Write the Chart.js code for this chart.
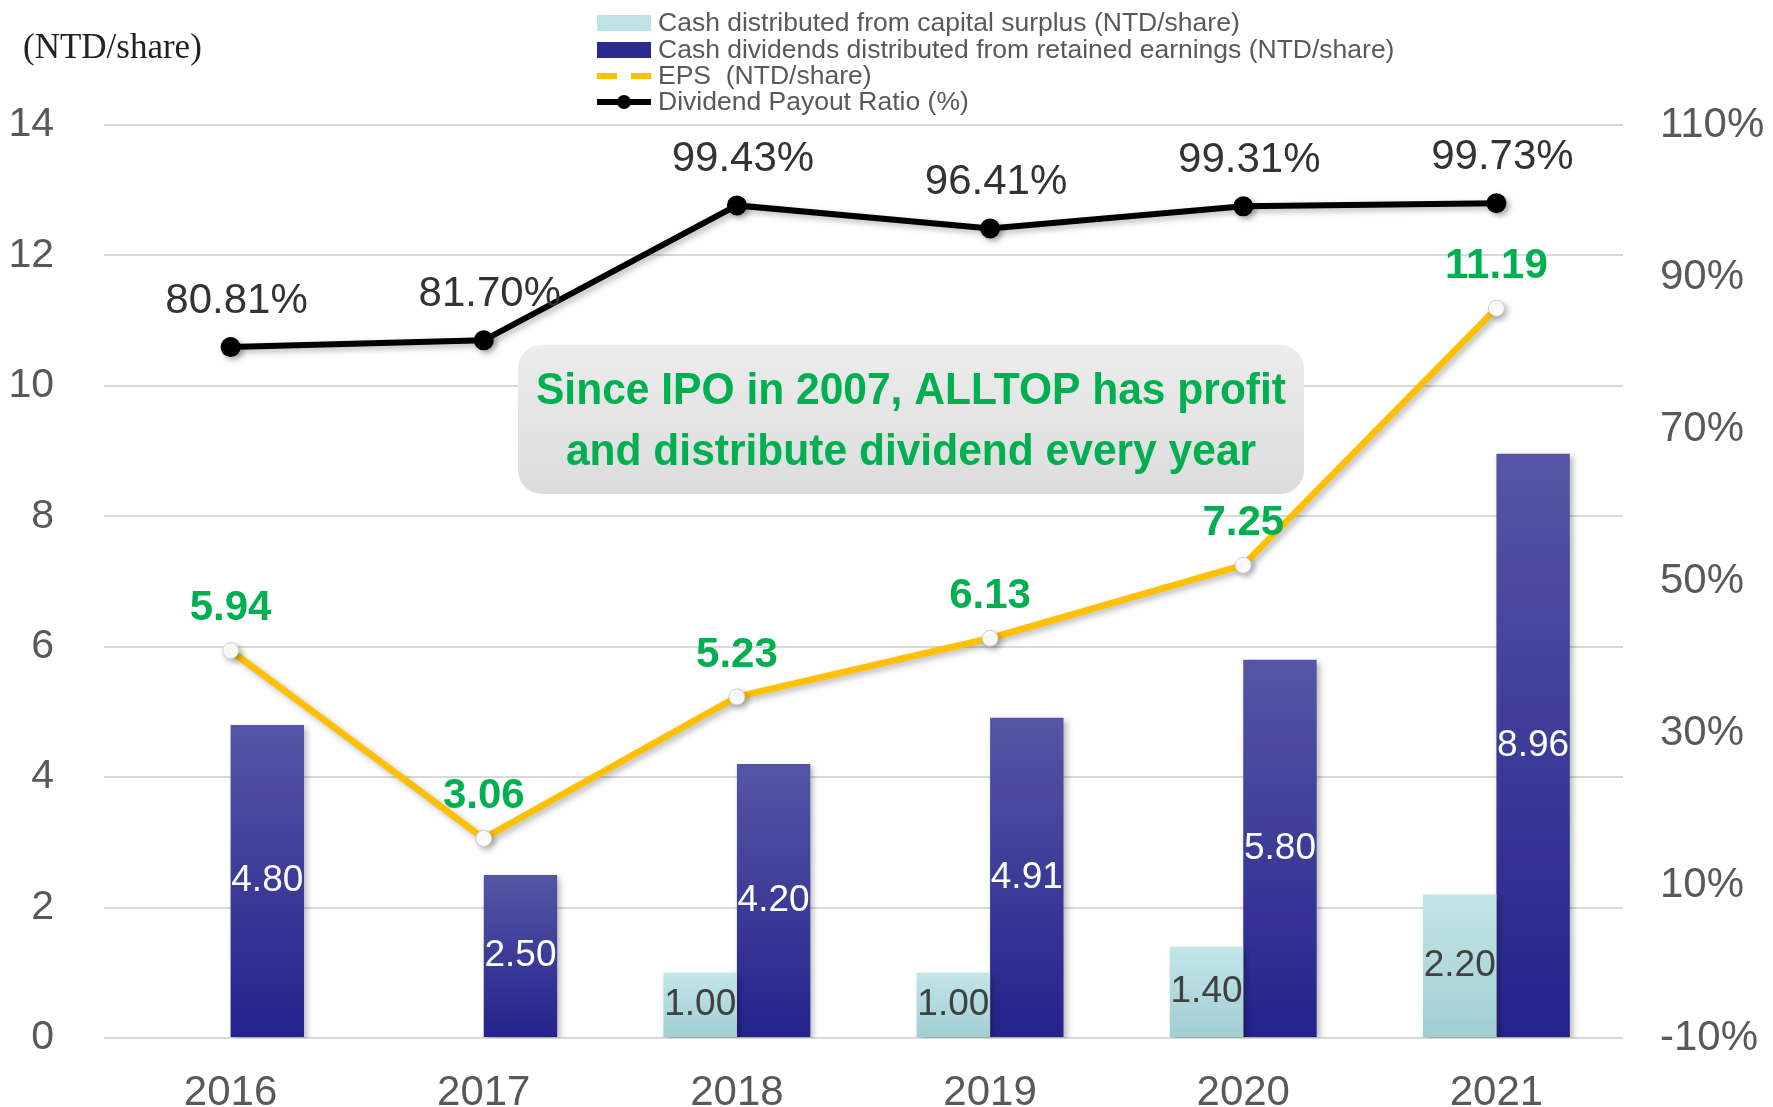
<!DOCTYPE html>
<html>
<head>
<meta charset="utf-8">
<script src="https://cdn.jsdelivr.net/npm/chart.js@4.4.1/dist/chart.umd.min.js"></script>
<style>
    html, body { margin: 0; padding: 0; background: #ffffff; }
    canvas { display: block; }
</style>
</head>
<body>
<canvas id="dividendChart" width="1773" height="1107"></canvas>
<script>
const years = ['2016', '2017', '2018', '2019', '2020', '2021'];
const capitalSurplus = [null, null, 1.00, 1.00, 1.40, 2.20];
const retainedEarnings = [4.80, 2.50, 4.20, 4.91, 5.80, 8.96];
const eps = [5.94, 3.06, 5.23, 6.13, 7.25, 11.19];
const payoutRatio = [80.81, 81.70, 99.43, 96.41, 99.31, 99.73];

const seriesNames = [
    'Cash distributed from capital surplus (NTD/share)',
    'Cash dividends distributed from retained earnings (NTD/share)',
    'EPS  (NTD/share)',
    'Dividend Payout Ratio (%)'
];
const noteLines = [
    'Since IPO in 2007, ALLTOP has profit',
    'and distribute dividend every year'
];

const FONT = "'Liberation Sans', Arial, sans-serif";
Chart.defaults.font.family = FONT;

function barGradient(top, bottom) {
    return function (context) {
        const chart = context.chart;
        if (!chart.chartArea || context.type !== 'data' || context.raw == null) return bottom;
        const y = chart.scales.y;
        const y0 = y.getPixelForValue(context.raw);
        const y1 = y.getPixelForValue(0);
        const g = chart.ctx.createLinearGradient(0, y0, 0, y1);
        g.addColorStop(0, top);
        g.addColorStop(1, bottom);
        return g;
    };
}

function fixSide(width) {
    return s => {
        s.width = width;
        s.paddingTop = 0;
        s.paddingBottom = 0;
    };
}

// soft shadow under bars and lines
const shadowPlugin = {
    id: 'shadows',
    beforeDatasetDraw(chart) {
        const ctx = chart.ctx;
        ctx.save();
        ctx.shadowColor = 'rgba(0,0,0,0.28)';
        ctx.shadowBlur = 6;
        ctx.shadowOffsetX = 3;
        ctx.shadowOffsetY = 3;
    },
    afterDatasetDraw(chart) {
        chart.ctx.restore();
    }
};

// grey rounded note box
const notePlugin = {
    id: 'noteBox',
    beforeDatasetsDraw(chart) {
        const ctx = chart.ctx;
        const x = 518, y = 345, w = 786, h = 149;
        ctx.save();
        const g = ctx.createLinearGradient(0, y, 0, y + h);
        g.addColorStop(0, '#ececec');
        g.addColorStop(1, '#dcdcdc');
        ctx.fillStyle = g;
        ctx.beginPath();
        ctx.roundRect(x, y, w, h, 24);
        ctx.fill();

        ctx.font = "bold 44px 'Liberation Sans Narrow', 'Arial Narrow', " + FONT;
        ctx.fillStyle = '#00b050';
        ctx.textAlign = 'center';
        ctx.textBaseline = 'middle';
        const w1 = ctx.measureText(noteLines[0]).width;
        const k = Math.min(1, 750 / w1);
        const cx = x + w / 2;
        ctx.translate(cx, 0);
        ctx.scale(k, 1);
        ctx.fillText(noteLines[0], 0, 392);
        ctx.fillText(noteLines[1], 0, 453);
        ctx.restore();
    }
};

// value labels on bars and points
const labelPlugin = {
    id: 'valueLabels',
    afterDatasetsDraw(chart) {
        const ctx = chart.ctx;
        ctx.save();
        ctx.textAlign = 'center';
        ctx.textBaseline = 'middle';
        chart.data.datasets.forEach((ds, i) => {
            const meta = chart.getDatasetMeta(i);
            meta.data.forEach((el, j) => {
                const v = ds.data[j];
                if (v == null) return;
                if (ds.type === 'bar') {
                    ctx.font = '37px ' + FONT;
                    ctx.fillStyle = i === 0 ? '#404040' : '#ffffff';
                    ctx.fillText(v.toFixed(2), el.x, (el.y + el.base) / 2);
                } else if (ds.yAxisID === 'y') {
                    ctx.font = 'bold 42px ' + FONT;
                    ctx.fillStyle = '#00b050';
                    ctx.fillText(v.toFixed(2), el.x, el.y - 42);
                } else {
                    ctx.font = '42px ' + FONT;
                    ctx.fillStyle = '#333333';
                    ctx.fillText(v.toFixed(2) + '%', el.x + 6, el.y - 46);
                }
            });
        });
        ctx.restore();
    }
};

// legend block and unit caption
const legendPlugin = {
    id: 'customLegend',
    afterDraw(chart) {
        const ctx = chart.ctx;
        ctx.save();
        ctx.font = "35px 'Liberation Serif', 'Times New Roman', serif";
        ctx.fillStyle = '#222222';
        ctx.textBaseline = 'middle';
        ctx.fillText('(NTD/share)', 23, 49);

        const mx = 597, mw = 54, tx = 658;
        const rows = [23, 50, 76, 102];
        ctx.font = '26.5px ' + FONT;
        rows.forEach((ry, i) => {
            if (i === 0) {
                ctx.fillStyle = '#bfe2e4';
                ctx.fillRect(mx, ry - 8, mw, 16);
            } else if (i === 1) {
                ctx.fillStyle = '#2b2a90';
                ctx.fillRect(mx, ry - 8, mw, 16);
            } else if (i === 2) {
                ctx.strokeStyle = '#ffc000';
                ctx.lineWidth = 6;
                ctx.beginPath();
                ctx.moveTo(mx, ry); ctx.lineTo(mx + 20, ry);
                ctx.moveTo(mx + 34, ry); ctx.lineTo(mx + mw, ry);
                ctx.stroke();
                ctx.fillStyle = '#ffffff';
                ctx.beginPath();
                ctx.arc(mx + mw / 2, ry + 1, 6, 0, Math.PI * 2);
                ctx.fill();
            } else {
                ctx.strokeStyle = '#000000';
                ctx.lineWidth = 6;
                ctx.beginPath();
                ctx.moveTo(mx, ry); ctx.lineTo(mx + mw, ry);
                ctx.stroke();
                ctx.fillStyle = '#000000';
                ctx.beginPath();
                ctx.arc(mx + mw / 2, ry, 7, 0, Math.PI * 2);
                ctx.fill();
            }
            ctx.fillStyle = '#595959';
            ctx.fillText(seriesNames[i], tx, ry + 1);
        });
        ctx.restore();
    }
};

new Chart(document.getElementById('dividendChart'), {
    data: {
        labels: years,
        datasets: [
            {
                type: 'bar',
                label: seriesNames[0],
                data: capitalSurplus,
                yAxisID: 'y',
                order: 2,
                backgroundColor: barGradient('#c3e6e8', '#a1ced2'),
                categoryPercentage: 0.58,
                barPercentage: 1.0
            },
            {
                type: 'bar',
                label: seriesNames[1],
                data: retainedEarnings,
                yAxisID: 'y',
                order: 2,
                backgroundColor: barGradient('#5456a5', '#24228c'),
                categoryPercentage: 0.58,
                barPercentage: 1.0
            },
            {
                type: 'line',
                label: seriesNames[2],
                data: eps,
                yAxisID: 'y',
                order: 1,
                borderColor: '#ffc000',
                borderWidth: 6.5,
                pointRadius: 8,
                pointBackgroundColor: '#ffffff',
                pointBorderColor: '#d0d0d0',
                pointBorderWidth: 1,
                tension: 0
            },
            {
                type: 'line',
                label: seriesNames[3],
                data: payoutRatio,
                yAxisID: 'y2',
                order: 0,
                borderColor: '#000000',
                borderWidth: 6,
                pointRadius: 7,
                pointBackgroundColor: '#000000',
                pointBorderColor: '#000000',
                tension: 0
            }
        ]
    },
    options: {
        responsive: false,
        animation: false,
        devicePixelRatio: 1,
        layout: { padding: { top: 125, left: 0, right: 0, bottom: 0 } },
        plugins: {
            legend: { display: false },
            tooltip: { enabled: false }
        },
        scales: {
            x: {
                grid: { display: false, drawTicks: false },
                border: { display: false },
                ticks: { color: '#595959', font: { size: 42 }, padding: 30 },
                afterFit: s => { s.height = 69; }
            },
            y: {
                position: 'left',
                min: 0,
                max: 14,
                grid: { color: '#d9d9d9', lineWidth: 2, drawTicks: false },
                border: { display: false },
                ticks: { stepSize: 2, color: '#595959', font: { size: 41 }, padding: 50 },
                afterFit: fixSide(104)
            },
            y2: {
                position: 'right',
                min: -10,
                max: 110,
                grid: { display: false, drawTicks: false },
                border: { display: false },
                ticks: {
                    stepSize: 20,
                    color: '#595959',
                    font: { size: 42 },
                    padding: 37,
                    callback: v => v + '%'
                },
                afterFit: fixSide(150)
            }
        }
    },
    plugins: [shadowPlugin, notePlugin, labelPlugin, legendPlugin]
});
</script>
</body>
</html>
